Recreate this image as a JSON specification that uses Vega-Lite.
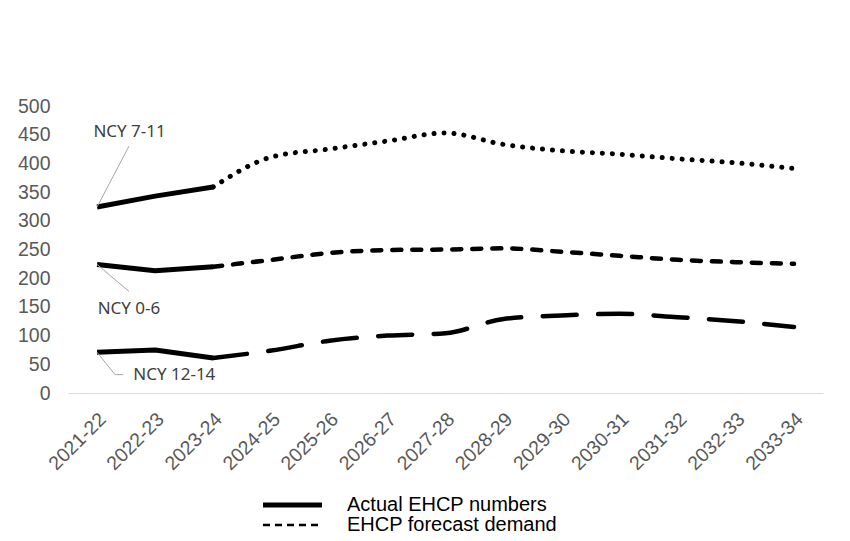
{
  "$schema": "https://vega.github.io/schema/vega-lite/v6.json",
  "width": 755,
  "height": 287,
  "autosize": "none",
  "padding": {"left": 68, "top": 106, "right": 27, "bottom": 148},
  "background": "white",
  "config": {"view": {"stroke": null}, "font": "Liberation Sans"},
  "datasets": {
    "ehcp": [
      {"year": "2021-22", "series": "NCY 7-11", "type": "Actual EHCP numbers", "value": 324},
      {"year": "2022-23", "series": "NCY 7-11", "type": "Actual EHCP numbers", "value": 343},
      {"year": "2023-24", "series": "NCY 7-11", "type": "Actual EHCP numbers", "value": 359},
      {"year": "2021-22", "series": "NCY 0-6", "type": "Actual EHCP numbers", "value": 224},
      {"year": "2022-23", "series": "NCY 0-6", "type": "Actual EHCP numbers", "value": 213},
      {"year": "2023-24", "series": "NCY 0-6", "type": "Actual EHCP numbers", "value": 220},
      {"year": "2021-22", "series": "NCY 12-14", "type": "Actual EHCP numbers", "value": 71},
      {"year": "2022-23", "series": "NCY 12-14", "type": "Actual EHCP numbers", "value": 75},
      {"year": "2023-24", "series": "NCY 12-14", "type": "Actual EHCP numbers", "value": 61},
      {"year": "2023-24", "series": "NCY 7-11", "type": "EHCP forecast demand", "value": 359},
      {"year": "2024-25", "series": "NCY 7-11", "type": "EHCP forecast demand", "value": 411},
      {"year": "2025-26", "series": "NCY 7-11", "type": "EHCP forecast demand", "value": 425},
      {"year": "2026-27", "series": "NCY 7-11", "type": "EHCP forecast demand", "value": 439},
      {"year": "2027-28", "series": "NCY 7-11", "type": "EHCP forecast demand", "value": 453},
      {"year": "2028-29", "series": "NCY 7-11", "type": "EHCP forecast demand", "value": 433},
      {"year": "2029-30", "series": "NCY 7-11", "type": "EHCP forecast demand", "value": 422},
      {"year": "2030-31", "series": "NCY 7-11", "type": "EHCP forecast demand", "value": 416},
      {"year": "2031-32", "series": "NCY 7-11", "type": "EHCP forecast demand", "value": 408},
      {"year": "2032-33", "series": "NCY 7-11", "type": "EHCP forecast demand", "value": 401},
      {"year": "2033-34", "series": "NCY 7-11", "type": "EHCP forecast demand", "value": 391},
      {"year": "2023-24", "series": "NCY 0-6", "type": "EHCP forecast demand", "value": 220},
      {"year": "2024-25", "series": "NCY 0-6", "type": "EHCP forecast demand", "value": 232},
      {"year": "2025-26", "series": "NCY 0-6", "type": "EHCP forecast demand", "value": 244},
      {"year": "2026-27", "series": "NCY 0-6", "type": "EHCP forecast demand", "value": 249},
      {"year": "2027-28", "series": "NCY 0-6", "type": "EHCP forecast demand", "value": 250},
      {"year": "2028-29", "series": "NCY 0-6", "type": "EHCP forecast demand", "value": 252},
      {"year": "2029-30", "series": "NCY 0-6", "type": "EHCP forecast demand", "value": 246},
      {"year": "2030-31", "series": "NCY 0-6", "type": "EHCP forecast demand", "value": 239},
      {"year": "2031-32", "series": "NCY 0-6", "type": "EHCP forecast demand", "value": 232},
      {"year": "2032-33", "series": "NCY 0-6", "type": "EHCP forecast demand", "value": 228},
      {"year": "2033-34", "series": "NCY 0-6", "type": "EHCP forecast demand", "value": 225},
      {"year": "2023-24", "series": "NCY 12-14", "type": "EHCP forecast demand", "value": 61},
      {"year": "2024-25", "series": "NCY 12-14", "type": "EHCP forecast demand", "value": 74},
      {"year": "2025-26", "series": "NCY 12-14", "type": "EHCP forecast demand", "value": 91},
      {"year": "2026-27", "series": "NCY 12-14", "type": "EHCP forecast demand", "value": 100},
      {"year": "2027-28", "series": "NCY 12-14", "type": "EHCP forecast demand", "value": 104},
      {"year": "2028-29", "series": "NCY 12-14", "type": "EHCP forecast demand", "value": 129},
      {"year": "2029-30", "series": "NCY 12-14", "type": "EHCP forecast demand", "value": 135},
      {"year": "2030-31", "series": "NCY 12-14", "type": "EHCP forecast demand", "value": 138},
      {"year": "2031-32", "series": "NCY 12-14", "type": "EHCP forecast demand", "value": 132},
      {"year": "2032-33", "series": "NCY 12-14", "type": "EHCP forecast demand", "value": 125},
      {"year": "2033-34", "series": "NCY 12-14", "type": "EHCP forecast demand", "value": 115}
    ],
    "leaders": [
      {"series": "NCY 7-11", "xi": 0, "value": 324},
      {"series": "NCY 7-11", "xi": 0.55, "value": 430},
      {"series": "NCY 0-6", "xi": 0, "value": 224},
      {"series": "NCY 0-6", "xi": 0.55, "value": 177},
      {"series": "NCY 12-14", "xi": 0, "value": 71},
      {"series": "NCY 12-14", "xi": 0.31, "value": 32},
      {"series": "NCY 12-14", "xi": 0.45, "value": 32}
    ],
    "labels": [
      {"label": "NCY 7-11", "xi": 0.56, "value": 455},
      {"label": "NCY 0-6", "xi": 0.55, "value": 147},
      {"label": "NCY 12-14", "xi": 1.33, "value": 30.5}
    ]
  },
  "layer": [
    {
      "data": {"name": "ehcp"},
      "encoding": {
        "x": {
          "field": "year", "type": "ordinal",
          "scale": {"type": "point", "padding": 0.5},
          "axis": {
            "title": null, "labelAngle": -45, "labelAlign": "right", "labelBaseline": "top",
            "labelPadding": 16.5, "labelOffset": -1, "ticks": false, "labelOverlap": false,
            "domainColor": "#d9d9d9", "domainWidth": 1.2,
            "labelFont": "Liberation Sans", "labelFontSize": 19.5, "labelColor": "#595959"
          }
        },
        "y": {
          "field": "value", "type": "quantitative",
          "scale": {"domain": [0, 500], "nice": false, "zero": true},
          "axis": {
            "title": null, "values": [0, 50, 100, 150, 200, 250, 300, 350, 400, 450, 500],
            "domain": false, "ticks": false, "grid": false, "labelPadding": 18, "labelOverlap": false,
            "labelFont": "Liberation Sans", "labelFontSize": 19.5, "labelColor": "#595959"
          }
        },
        "color": {
          "field": "type", "type": "nominal",
          "scale": {"domain": ["Actual EHCP numbers", "EHCP forecast demand"], "range": ["#000000", "#000000"]},
          "legend": {
            "title": null, "orient": "none", "legendX": 214.5, "legendY": 389,
            "padding": 0, "symbolType": "M-2.95,0H2.95", "symbolSize": 400,
            "symbolStrokeColor": "#000000", "symbolFillColor": "transparent",
            "labelOffset": 44.5, "labelFont": "Liberation Sans", "labelFontSize": 20, "labelColor": "#000000",
            "labelLimit": 400, "rowPadding": -3,
            "encode": {
              "symbols": {
                "update": {
                  "stroke": {"value": "#000000"},
                  "strokeWidth": {"signal": "datum.value === 'EHCP forecast demand' ? 2.5 : 5"},
                  "strokeDash": {"signal": "datum.value === 'EHCP forecast demand' ? [7, 5] : [1, 0]"}
                }
              }
            }
          }
        },
        "detail": {"field": "series", "type": "nominal"}
      },
      "layer": [
        {
          "transform": [{"filter": "datum.type === 'Actual EHCP numbers'"}],
          "mark": {"type": "line", "strokeWidth": 5, "strokeCap": "butt", "strokeJoin": "round"}
        },
        {
          "transform": [{"filter": "datum.type === 'EHCP forecast demand' && datum.series === 'NCY 7-11'"}],
          "mark": {"type": "line", "strokeWidth": 5, "strokeCap": "round", "strokeDash": [0.1, 9.9], "interpolate": "monotone"}
        },
        {
          "transform": [{"filter": "datum.type === 'EHCP forecast demand' && datum.series === 'NCY 0-6'"}],
          "mark": {"type": "line", "strokeWidth": 4.5, "strokeCap": "round", "strokeDash": [9, 11], "interpolate": "monotone"}
        },
        {
          "transform": [{"filter": "datum.type === 'EHCP forecast demand' && datum.series === 'NCY 12-14'"}],
          "mark": {"type": "line", "strokeWidth": 4.5, "strokeCap": "round", "strokeDash": [34, 21.5], "interpolate": "monotone"}
        }
      ]
    },
    {
      "layer": [
        {
          "data": {"name": "leaders"},
          "mark": {"type": "line", "stroke": "#a6a6a6", "strokeWidth": 1},
          "encoding": {
            "x": {"field": "xi", "type": "quantitative", "scale": {"domain": [-0.5, 12.5], "nice": false, "zero": false}, "axis": null},
            "y": {"field": "value", "type": "quantitative", "axis": null},
            "detail": {"field": "series", "type": "nominal"}
          }
        },
        {
          "data": {"name": "labels"},
          "mark": {"type": "text", "font": "Noto Sans", "fontSize": 17, "color": "#404040", "align": "center", "baseline": "middle"},
          "encoding": {
            "x": {"field": "xi", "type": "quantitative", "axis": null},
            "y": {"field": "value", "type": "quantitative", "axis": null},
            "text": {"field": "label", "type": "nominal"}
          }
        }
      ]
    }
  ],
  "resolve": {"scale": {"x": "independent"}, "axis": {"x": "independent", "y": "independent"}}
}
